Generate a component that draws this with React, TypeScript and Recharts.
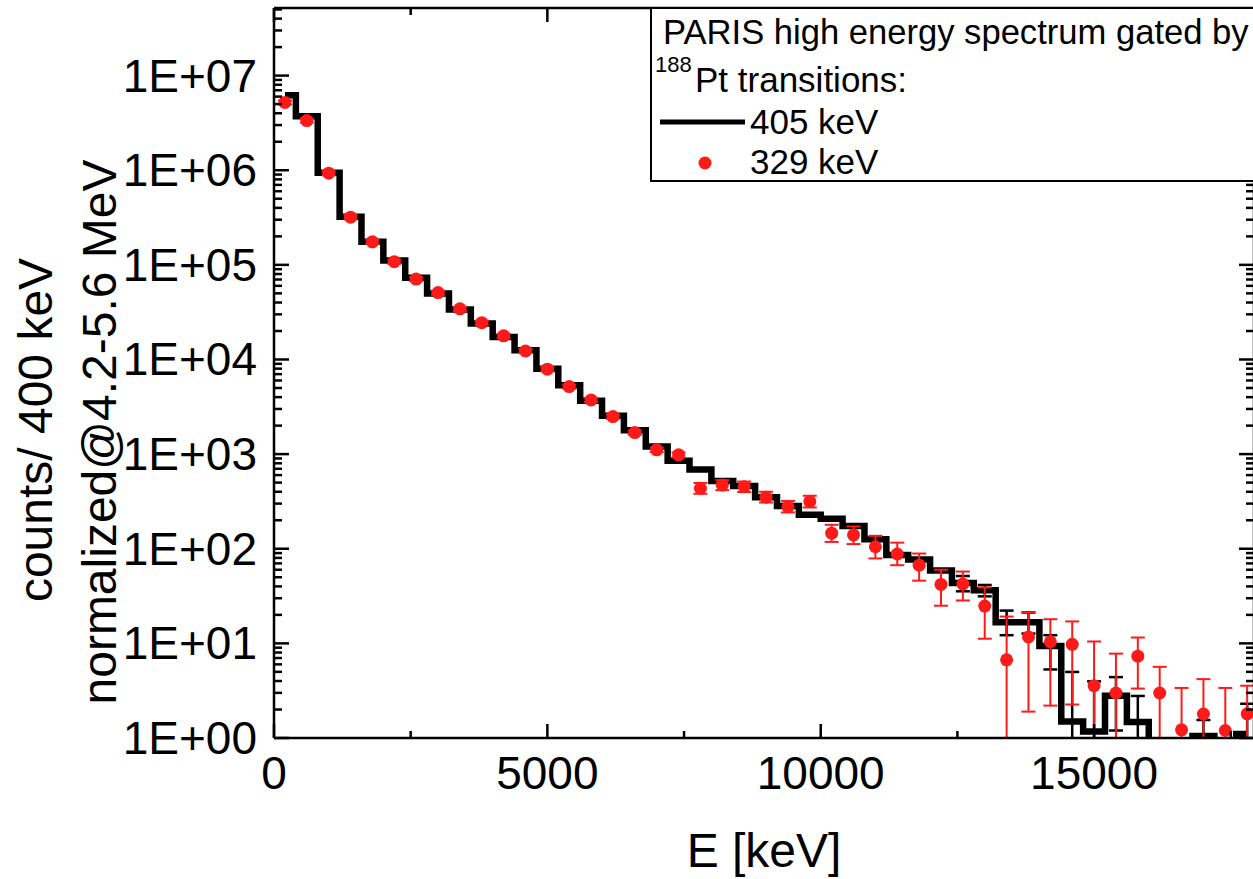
import React from "react";
import { ComposedChart, Line, Scatter, XAxis, YAxis, ErrorBar, Label } from "recharts";

const FONT = '"Liberation Sans", Arial, Helvetica, sans-serif';

// bin centres, 400 keV bins
const energy = [
  200, 600, 1000, 1400, 1800, 2200, 2600, 3000, 3400, 3800, 4200, 4600, 5000, 5400, 5800,
  6200, 6600, 7000, 7400, 7800, 8200, 8600, 9000, 9400, 9800, 10200, 10600, 11000, 11400,
  11800, 12200, 12600, 13000, 13400, 13800, 14200, 14600, 15000, 15400, 15800, 16200, 16600,
  17000, 17400, 17800,
];

// 405 keV gate (black histogram)
const gate405 = [
  6.2e6, 3.73e6, 9.4e5, 3.22e5, 1.75e5, 1.11e5, 7.3e4, 4.98e4, 3.37e4, 2.4e4, 1.73e4, 1.25e4,
  8.0e3, 5.35e3, 3.67e3, 2.54e3, 1.79e3, 1.2e3, 853, 687, 521, 460, 350, 283, 228, 207, 174,
  126, 86, 77, 59, 43.5, 36.4, 16.7, 16.7, 9.4, 1.49, 1.17, 2.8, 1.48, 0.3, 0.3, 1.05, 0.3, 1.1,
];
const gate405Err: ([number, number] | null)[] = [
  null, null, null, null, null, null, null, null, null, null, null, null, null, null, null,
  null, null, null, null, null, null, null, null, null, null, null, null, null, null, null,
  null, [8, 8], [5, 5], [4.5, 5.5], [4, 4.5], [4.1, 2.8], [1.48, 3.5], [1.16, 2.8], [1.6, 1.6],
  [1.47, 1.3], null, null, [1.04, 0.5], null, [1.09, 1.2],
];

// 329 keV gate (red points)
const gate329 = [
  5.2e6, 3.35e6, 9.3e5, 3.19e5, 1.75e5, 1.08e5, 7.07e4, 5.09e4, 3.43e4, 2.45e4, 1.78e4, 1.23e4,
  7.9e3, 5.17e3, 3.74e3, 2.49e3, 1.69e3, 1.11e3, 982, 436, 471, 453, 350, 278, 315, 146, 140,
  105, 88, 67, 42, 42.4, 24.8, 6.7, 11.7, 10.4, 9.76, 3.57, 2.99, 7.33, 2.99, 1.22, 1.79, 1.2, 1.8,
];
const gate329Err: [number, number][] = [
  [2.6e5, 2.6e5], [1.7e5, 1.7e5], [4.6e4, 4.6e4], [1.6e4, 1.6e4], [9e3, 9e3], [5.4e3, 5.4e3],
  [3.5e3, 3.5e3], [2.5e3, 2.5e3], [1.7e3, 1.7e3], [1.2e3, 1.2e3], [900, 900], [620, 620],
  [400, 400], [260, 260], [190, 190], [130, 130], [90, 90], [60, 60], [60, 60], [55, 60],
  [55, 60], [55, 60], [42, 50], [36, 42], [42, 48], [28, 33], [28, 32], [26, 32], [21, 28],
  [21, 22], [17, 18], [14, 15], [13.6, 14.2], [6.65, 12.5], [9.8, 9.5], [8.2, 7.6], [7.5, 7.3],
  [3.55, 6.9], [2.97, 4.8], [4.0, 4.2], [2.97, 2.66], [1.21, 2.16], [1.78, 2.4], [1.19, 2.18],
  [1.79, 1.77],
];

const xTicks = [0, 2500, 5000, 7500, 10000, 12500, 15000, 17500];
const yDecades = [1, 10, 100, 1e3, 1e4, 1e5, 1e6, 1e7];
const yLabels = ["1E+00", "1E+01", "1E+02", "1E+03", "1E+04", "1E+05", "1E+06", "1E+07"];

const yTicks: number[] = [];
yDecades.forEach((d) => {
  for (let m = 1; m <= 9; m++) if (d * m < 5.18e7) yTicks.push(d * m);
});

const X_MAX = 17925;
const Y_DOMAIN: [number, number] = [1, 5.18e7];

const rows = energy.map((e, i) => ({
  e,
  black: gate405[i],
  blackErr: gate405Err[i],
  red: gate329[i],
  redErr: gate329Err[i],
}));

const isDecade = (v: number) => Math.abs(Math.log10(v) - Math.round(Math.log10(v))) < 1e-9;

const BottomTick = ({ x, y, payload }: any) => {
  const major = payload.value % 5000 === 0;
  return (
    <g>
      <line x1={x} y1={y} x2={x} y2={y - (major ? 14 : 7)} stroke="#000" strokeWidth={2.5} />
      {major && (
        <text x={x} y={y + 51} textAnchor="middle" fontSize={46} fontFamily={FONT} fill="#000">
          {payload.value}
        </text>
      )}
    </g>
  );
};

const TopTick = ({ x, y, payload }: any) => {
  const major = payload.value % 5000 === 0;
  return <line x1={x} y1={y} x2={x} y2={y + (major ? 14 : 7)} stroke="#000" strokeWidth={2.5} />;
};

const LeftTick = ({ x, y, payload }: any) => {
  const major = isDecade(payload.value);
  const idx = yDecades.indexOf(payload.value);
  return (
    <g>
      <line x1={x} y1={y} x2={x + (major ? 15 : 8)} y2={y} stroke="#000" strokeWidth={2.5} />
      {major && idx >= 0 && (
        <text x={x - 17} y={y + 16} textAnchor="end" fontSize={46} fontFamily={FONT} fill="#000">
          {yLabels[idx]}
        </text>
      )}
    </g>
  );
};

const RightTick = ({ x, y, payload }: any) => {
  const major = isDecade(payload.value);
  return <line x1={x} y1={y} x2={x - (major ? 15 : 8)} y2={y} stroke="#000" strokeWidth={2.5} />;
};

const YTitle = () => (
  <g fontFamily={FONT} fontSize={48} fill="#000">
    <text transform="rotate(-90 52 430)" x={52} y={430} textAnchor="middle">
      counts/ 400 keV
    </text>
    <text transform="rotate(-90 116 432)" x={116} y={432} textAnchor="middle">
      normalized@4.2-5.6 MeV
    </text>
  </g>
);

const XTitle = () => (
  <text x={764} y={867} textAnchor="middle" fontFamily={FONT} fontSize={48} fill="#000">
    E [keV]
  </text>
);

const RedDot = ({ cx, cy }: any) => <circle cx={cx} cy={cy} r={6.5} fill="#ff1a1a" />;

const axisLine = { stroke: "#000", strokeWidth: 2.5 };

export default function App() {
  return (
    <div
      style={{
        position: "fixed",
        left: 0,
        top: 0,
        width: 1253,
        height: 879,
        overflow: "hidden",
        background: "#fff",
      }}
    >
      <svg width={0} height={0} style={{ position: "absolute" }}>
        <defs>
          <clipPath id="plotArea" clipPathUnits="userSpaceOnUse">
            <rect x={274} y={8} width={980} height={730} />
          </clipPath>
        </defs>
      </svg>
      <ComposedChart
        width={1300}
        height={879}
        data={rows}
        margin={{ top: 7, right: 45, bottom: 0, left: 0 }}
      >
        <XAxis
          dataKey="e"
          type="number"
          domain={[0, X_MAX]}
          allowDataOverflow
          ticks={xTicks}
          interval={0}
          tickLine={false}
          tickSize={0}
          tickMargin={0}
          axisLine={axisLine}
          tick={<BottomTick />}
          height={141}
        >
          <Label content={<XTitle />} />
        </XAxis>
        <XAxis
          xAxisId="top"
          orientation="top"
          dataKey="e"
          type="number"
          domain={[0, X_MAX]}
          allowDataOverflow
          ticks={xTicks}
          interval={0}
          tickLine={false}
          tickSize={0}
          tickMargin={0}
          axisLine={axisLine}
          tick={<TopTick />}
          height={1}
        />
        <YAxis
          type="number"
          scale="log"
          domain={Y_DOMAIN}
          allowDataOverflow
          ticks={yTicks}
          interval={0}
          tickLine={false}
          tickSize={0}
          tickMargin={0}
          axisLine={axisLine}
          tick={<LeftTick />}
          width={274}
        >
          <Label content={<YTitle />} />
        </YAxis>
        <YAxis
          yAxisId="right"
          orientation="right"
          type="number"
          scale="log"
          domain={Y_DOMAIN}
          allowDataOverflow
          ticks={yTicks}
          interval={0}
          tickLine={false}
          tickSize={0}
          tickMargin={0}
          axisLine={axisLine}
          tick={<RightTick />}
          width={1}
        />
        <Line
          dataKey="black"
          type="step"
          stroke="#000"
          strokeWidth={6.5}
          dot={false}
          activeDot={false}
          isAnimationActive={false}
        >
          <ErrorBar
            dataKey="blackErr"
            direction="y"
            width={7}
            stroke="#000"
            strokeWidth={2.5}
            clipPath="url(#plotArea)"
          />
        </Line>
        <Scatter
          data={rows}
          dataKey="red"
          fill="#ff1a1a"
          shape={<RedDot />}
          isAnimationActive={false}
        >
          <ErrorBar
            dataKey="redErr"
            direction="y"
            width={7}
            stroke="#ff1a1a"
            strokeWidth={2}
            clipPath="url(#plotArea)"
          />
        </Scatter>
      </ComposedChart>

      <svg
        width={1253}
        height={879}
        style={{ position: "absolute", left: 0, top: 0, pointerEvents: "none" }}
      >
        <rect x={651} y={8} width={700} height={173} fill="#fff" stroke="#000" strokeWidth={2} />
        <g fontFamily={FONT} fill="#000">
          <text x={663} y={44} fontSize={34.6}>
            PARIS high energy spectrum gated by
          </text>
          <text x={655} y={72} fontSize={22}>
            188
          </text>
          <text x={695} y={92} fontSize={35}>
            Pt transitions:
          </text>
          <text x={750} y={134} fontSize={35}>
            405 keV
          </text>
          <text x={750} y={174} fontSize={35}>
            329 keV
          </text>
        </g>
        <line x1={660} y1={122} x2={745} y2={122} stroke="#000" strokeWidth={5} />
        <circle cx={705} cy={163} r={6.5} fill="#ff1a1a" />
      </svg>
    </div>
  );
}
